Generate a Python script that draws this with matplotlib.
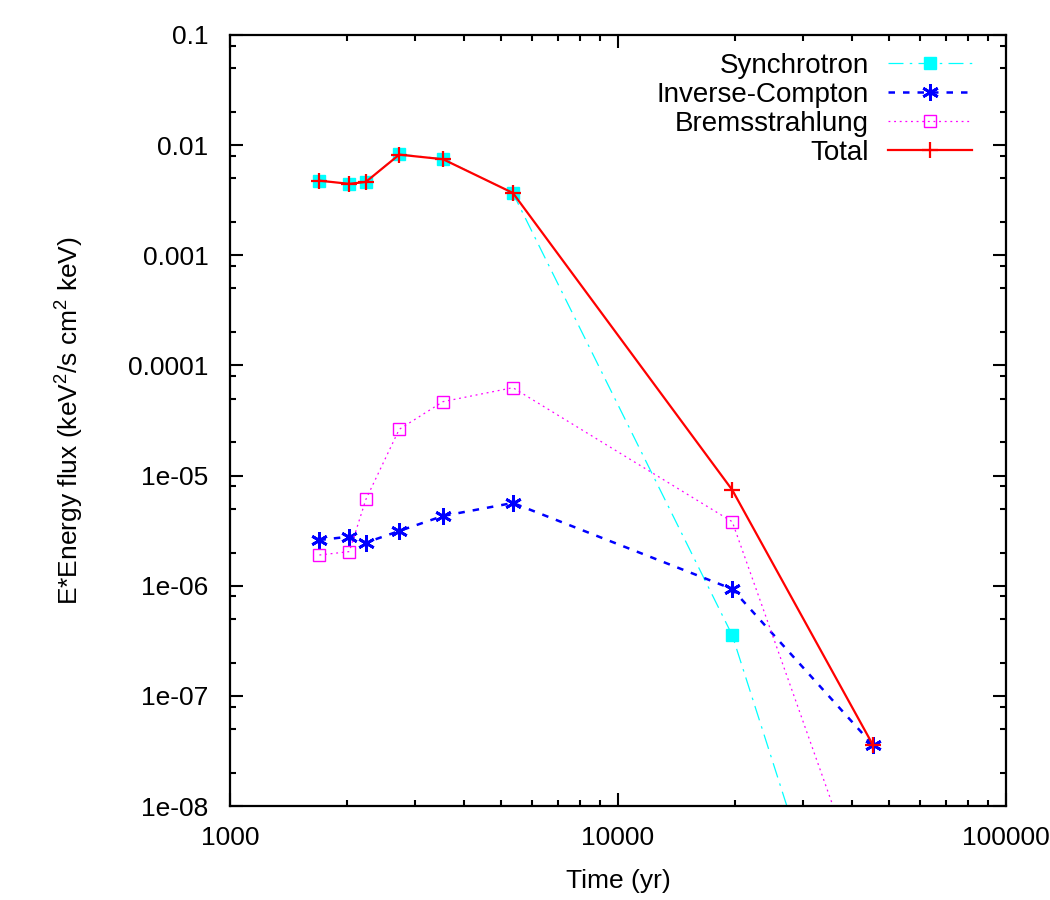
import matplotlib
matplotlib.use("Agg")
import matplotlib.pyplot as plt
from matplotlib.lines import Line2D
from matplotlib.ticker import LogLocator, NullFormatter

plt.rcParams['font.family'] = ['Liberation Sans', 'DejaVu Sans']
plt.rcParams['mathtext.default'] = 'regular'

# data
time_yr = [1700, 2030, 2240, 2730, 3540, 5360, 19700, 45400]
synchrotron = [4.75e-3, 4.44e-3, 4.63e-3, 8.3e-3, 7.5e-3, 3.67e-3, 3.55e-7, 3.6e-11]
inverse_compton = [2.60e-6, 2.79e-6, 2.46e-6, 3.14e-6, 4.30e-6, 5.64e-6, 9.33e-7, 3.58e-8]
bremsstrahlung = [1.90e-6, 2.04e-6, 6.08e-6, 2.63e-5, 4.69e-5, 6.28e-5, 3.81e-6, 9.5e-10]
total = [4.76e-3, 4.45e-3, 4.64e-3, 8.2e-3, 7.45e-3, 3.68e-3, 7.40e-6, 3.58e-8]

series_names = ['Synchrotron', 'Inverse-Compton', 'Bremsstrahlung', 'Total']

y_ticks = [1e-1, 1e-2, 1e-3, 1e-4, 1e-5, 1e-6, 1e-7, 1e-8]
y_labels = ['0.1', '0.01', '0.001', '0.0001', '1e-05', '1e-06', '1e-07', '1e-08']
x_ticks = [1000, 10000, 100000]
x_labels = ['1000', '10000', '100000']

fs = 19

styles = [
    dict(color='#00ffff', lw=0.9, dashes=(12, 5, 2, 5), marker='s', ms=9,
         mfc='#00ffff', mec='#00ffff'),
    dict(color='#0000ff', lw=1.8, dashes=(2.6, 3.2), marker=(6, 2, 0), ms=12,
         mew=2.0),
    dict(color='#ff00ff', lw=0.9, dashes=(1.5, 3), marker='s', ms=9,
         mfc='none', mec='#ff00ff', mew=1.0),
    dict(color='#ff0000', lw=1.6, marker='+', ms=11, mew=1.6),
]

fig = plt.figure(figsize=(10.5, 9), dpi=100)
ax = fig.add_axes([230 / 1050, 1 - 806 / 900, 776 / 1050, 771 / 900])

for name, vals, st in zip(series_names,
                          [synchrotron, inverse_compton, bremsstrahlung, total],
                          styles):
    ax.plot(time_yr, vals, label=name, **st)

ax.set_xscale('log')
ax.set_yscale('log')
ax.set_xlim(1000, 100000)
ax.set_ylim(1e-8, 0.1)

ax.set_xticks(x_ticks, x_labels)
ax.set_yticks(y_ticks, y_labels)
ax.xaxis.set_minor_locator(LogLocator(base=10, subs=range(2, 10)))
ax.yaxis.set_minor_locator(LogLocator(base=10, subs=(2, 5, 8)))
ax.xaxis.set_minor_formatter(NullFormatter())
ax.yaxis.set_minor_formatter(NullFormatter())

ax.tick_params(which='both', direction='in', top=True, right=True, width=1.5)
ax.tick_params(which='major', length=9.5)
ax.tick_params(which='minor', length=4.5)
ax.tick_params(axis='x', which='major', labelsize=fs, pad=14.5)
ax.tick_params(axis='y', which='major', labelsize=fs, pad=15.5)
for sp in ax.spines.values():
    sp.set_linewidth(1.6)

ax.set_xlabel('Time (yr)', fontsize=fs)
ax.set_ylabel('E*Energy flux (keV$^2$/s cm$^2$ keV)', fontsize=fs)
ax.xaxis.set_label_coords(0.5, -0.082)
ax.yaxis.set_label_coords(-0.186, 0.5)

# gnuplot-style key: right-aligned labels, sample line to the right
key_top = 0.9637
key_step = 0.0376
baseline_drop = 0.013
text_x, line_x0, line_x1 = 0.8235, 0.848, 0.9562
for i, (name, st) in enumerate(zip(series_names, styles)):
    y = key_top - i * key_step
    ax.text(text_x, y - baseline_drop, name, transform=ax.transAxes,
            ha='right', va='baseline', fontsize=20)
    line_st = {k: v for k, v in st.items() if k not in ('marker', 'ms', 'mfc', 'mec', 'mew')}
    ax.add_line(Line2D([line_x0, line_x1], [y, y], transform=ax.transAxes,
                       clip_on=False, **line_st))
    mark_st = {k: v for k, v in st.items() if k not in ('lw', 'dashes')}
    ax.add_line(Line2D([(line_x0 + line_x1) / 2], [y], transform=ax.transAxes,
                       clip_on=False, linestyle='none', **mark_st))

fig.savefig('out.png', dpi=100)
